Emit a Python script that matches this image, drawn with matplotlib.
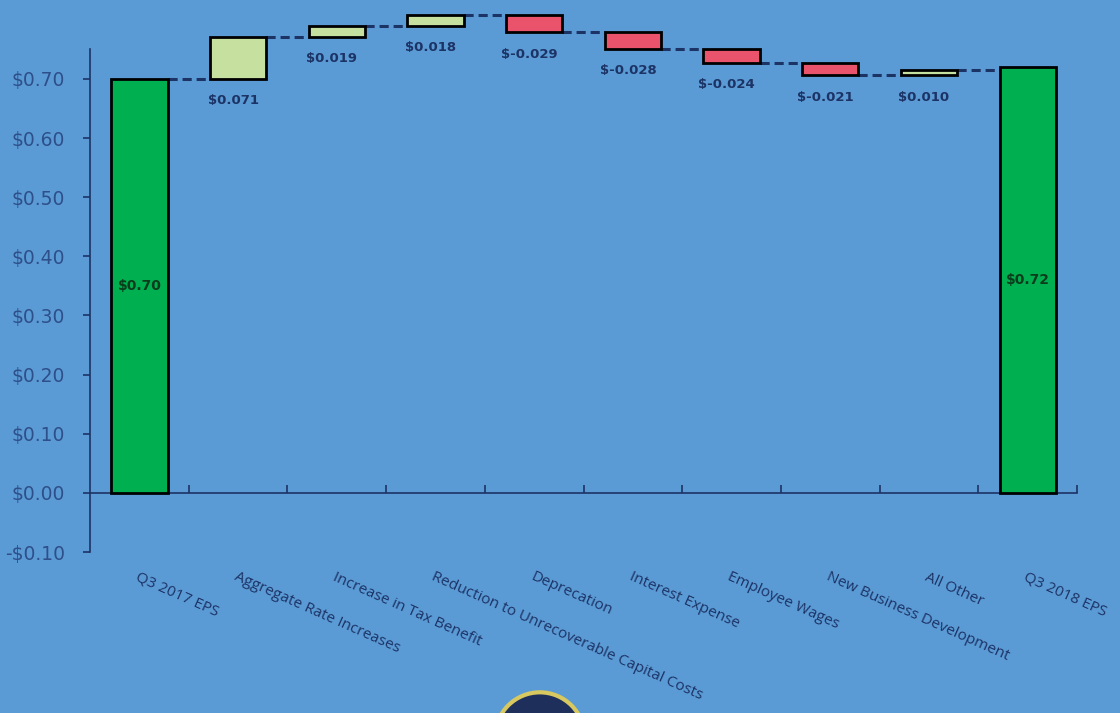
import matplotlib
matplotlib.use("Agg")
import matplotlib.pyplot as plt
from matplotlib.patches import Ellipse
import numpy as np

categories = ["Q3 2017 EPS", "Aggregate Rate Increases", "Increase in Tax Benefit",
              "Reduction to Unrecoverable Capital Costs", "Deprecation", "Interest Expense",
              "Employee Wages", "New Business Development", "All Other", "Q3 2018 EPS"]
start_value = 0.70
deltas = [0.071, 0.019, 0.018, -0.029, -0.028, -0.024, -0.021, 0.010]
end_value = 0.72
y_ticks = [-0.10, 0.0, 0.10, 0.20, 0.30, 0.40, 0.50, 0.60, 0.70]

BG = "#5b9bd5"
NAVY = "#1c3366"
TICKC = "#2d4f8a"
GREEN = "#00b050"
POS = "#c6e0a0"
NEG = "#e9546c"

fig = plt.figure(figsize=(11.2, 7.13), dpi=100, facecolor=BG)
ax = fig.add_axes([0.0804, 0.2258, 0.9616 - 0.0804, 0.9307 - 0.2258])
ax.set_facecolor(BG)

w = 0.57
n = len(categories)
x = np.arange(n)

levels = [start_value]
cur = start_value
for d in deltas:
    cur += d
    levels.append(cur)

ax.bar(x[0], start_value, width=w, color=GREEN, edgecolor="black", linewidth=2, zorder=3, clip_on=False)
ax.bar(x[-1], end_value, width=w, color=GREEN, edgecolor="black", linewidth=2, zorder=3, clip_on=False)
ax.text(x[0], start_value / 2, f"${start_value:.2f}", ha="center", va="center",
        fontsize=10, fontweight="bold", color="#0a3d1c", zorder=4)
ax.text(x[-1], end_value / 2, f"${end_value:.2f}", ha="center", va="center",
        fontsize=10, fontweight="bold", color="#0a3d1c", zorder=4)

for i, d in enumerate(deltas):
    xi = x[i + 1]
    bottom = levels[i] if d >= 0 else levels[i] + d
    ax.bar(xi, abs(d), bottom=bottom, width=w, color=POS if d >= 0 else NEG,
           edgecolor="black", linewidth=2, zorder=3, clip_on=False)
    lab = f"${d:.3f}" if d >= 0 else f"$-{abs(d):.3f}"
    ax.annotate(lab, (xi - 0.05, bottom), xytext=(0, -11), textcoords="offset points",
                ha="center", va="top", fontsize=9.5, fontweight="bold", color=NAVY,
                annotation_clip=False)

# connectors between consecutive bars
for i in range(n - 1):
    lv = levels[i] if i < len(levels) else levels[-1]
    ax.plot([x[i] + w / 2, x[i + 1] - w / 2], [lv, lv], color=NAVY, lw=2.2,
            ls=(0, (3, 1.6)), zorder=2, clip_on=False)

ax.set_xlim(-0.5, n - 0.5)
ax.set_ylim(-0.10, 0.75)

for s in ["top", "right"]:
    ax.spines[s].set_visible(False)
ax.spines["left"].set_color(NAVY)
ax.spines["left"].set_linewidth(1.2)
ax.spines["bottom"].set_position(("data", 0))
ax.spines["bottom"].set_color(NAVY)
ax.spines["bottom"].set_linewidth(1.2)

ax.set_yticks(y_ticks)
ax.set_yticklabels([("-$%.2f" % abs(v)) if v < 0 else ("$%.2f" % v) for v in y_ticks],
                   fontsize=13.5, color=TICKC)
ax.tick_params(axis="y", direction="out", length=5, width=1.2, color=NAVY, pad=13)

ax.set_xticks(x)
ax.set_xticklabels([])
ax.tick_params(axis="x", which="major", length=0)
ax.set_xticks(np.arange(n) + 0.5, minor=True)
ax.tick_params(axis="x", which="minor", direction="in", length=6, width=1.2, color=NAVY)

for xi, c in zip(x, categories):
    ax.text(xi, -0.13, c, rotation=-24, rotation_mode="anchor", ha="left", va="top",
            fontsize=11, color=NAVY, family="Open Sans")

# logo fragment at bottom center
logo = Ellipse((0.482, -0.034), width=0.08, height=0.126, transform=fig.transFigure,
               facecolor="#1e2f5c", edgecolor="#d8c860", linewidth=3, clip_on=False)
fig.patches.append(logo)

fig.savefig("out.png", dpi=100, facecolor=BG)
